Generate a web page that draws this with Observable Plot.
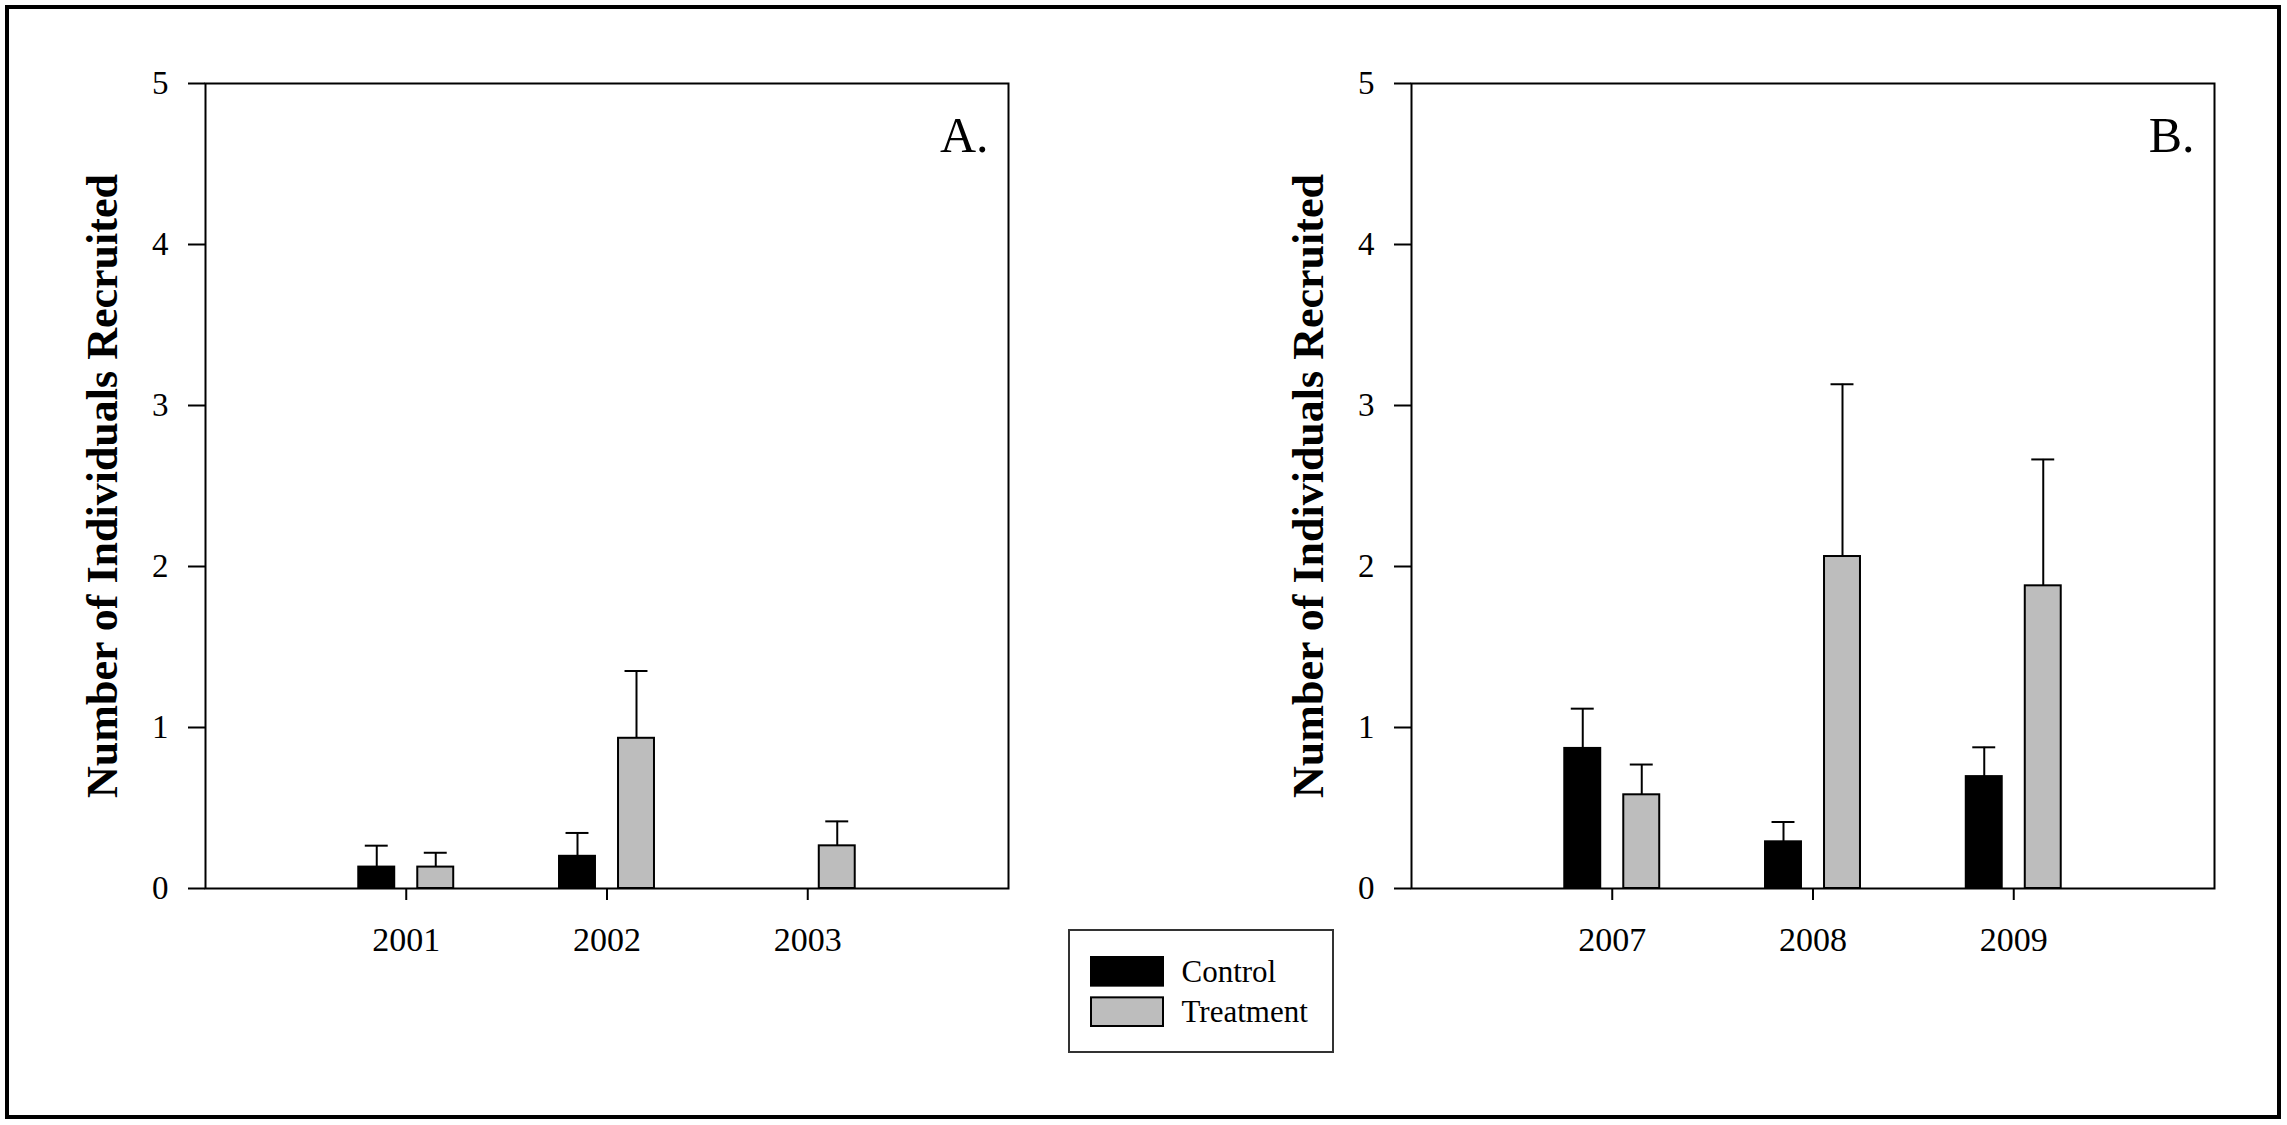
<!DOCTYPE html>
<html><head><meta charset="utf-8">
<script src="https://cdn.jsdelivr.net/npm/d3@7"></script>
<script src="https://cdn.jsdelivr.net/npm/@observablehq/plot@0.6"></script>
<style>
html,body{margin:0;padding:0;background:#fff;}
#page{position:relative;width:2287px;height:1125px;background:#fff;overflow:hidden;font-family:"Liberation Serif",serif;}
#border{position:absolute;left:5px;top:5px;width:2276px;height:1114px;border:4px solid #000;box-sizing:border-box;}
#panelA{position:absolute;left:0;top:0;}
#panelB{position:absolute;left:1206px;top:0;}
#legend{position:absolute;left:1068px;top:929px;width:266px;height:124px;border:2px solid #333;box-sizing:border-box;background:#fff;}
#legend svg, #panelA svg, #panelB svg{display:block;}
</style></head><body>
<div id="page"><div id="border"></div><div id="panelA"></div><div id="panelB"></div><div id="legend"></div></div>
<script>
const series = ["Control", "Treatment"];
const colors = ["#000000", "#bdbdbd"];
const yTicks = [0, 1, 2, 3, 4, 5];
const yLabel = "Number of Individuals Recruited";

const yearsA = ["2001", "2002", "2003"];
const controlA = [0.133, 0.2, 0];
const controlSeA = [0.133, 0.145, 0];
const treatmentA = [0.133, 0.933, 0.265];
const treatmentSeA = [0.089, 0.418, 0.152];

const yearsB = ["2007", "2008", "2009"];
const controlB = [0.87, 0.29, 0.695];
const controlSeB = [0.247, 0.123, 0.182];
const treatmentB = [0.582, 2.062, 1.88];
const treatmentSeB = [0.188, 1.07, 0.785];

// dodge layout inside each year band (band ≈ 95px): bar 36px, gap 23px, cap 23px
const DODGE = 59, HALF = 29.5, CAP = 6.5;

function panel(years, control, controlSe, treatment, treatmentSe, tag) {
  const ctl = years.map((year, i) => ({year, series: series[0], value: control[i], se: controlSe[i]}));
  const trt = years.map((year, i) => ({year, series: series[1], value: treatment[i], se: treatmentSe[i]}));
  const ctlErr = ctl.filter(d => d.se > 0);
  const trtErr = trt.filter(d => d.se > 0);
  const top = d => d.value + d.se;
  return Plot.plot({
    width: 1040, height: 1000,
    marginLeft: 205, marginRight: 32, marginTop: 83, marginBottom: 112,
    style: {fontFamily: "'Liberation Serif', serif", fontSize: "32px", color: "#000", background: "transparent", overflow: "visible"},
    x: {domain: years, paddingInner: 0.527, paddingOuter: 0.7635, round: false, label: null},
    y: {domain: [0, 5], label: null},
    color: {domain: series, range: colors},
    marks: [
      Plot.barY(ctl, {x: "year", y: "value", fill: "series", stroke: "#000", strokeWidth: 2, insetRight: DODGE}),
      Plot.barY(trt, {x: "year", y: "value", fill: "series", stroke: "#000", strokeWidth: 2, insetLeft: DODGE}),
      Plot.ruleX(ctlErr, {x: "year", y1: "value", y2: top, dx: -HALF, stroke: "#000", strokeWidth: 2}),
      Plot.ruleX(trtErr, {x: "year", y1: "value", y2: top, dx: HALF, stroke: "#000", strokeWidth: 2}),
      Plot.tickY(ctlErr, {x: "year", y: top, insetLeft: CAP, insetRight: DODGE + CAP, stroke: "#000", strokeWidth: 2}),
      Plot.tickY(trtErr, {x: "year", y: top, insetLeft: DODGE + CAP, insetRight: CAP, stroke: "#000", strokeWidth: 2}),
      Plot.axisY({ticks: yTicks, tickSize: 17, tickPadding: 20, tickFormat: d3.format("d"), fontSize: 33, label: null, strokeWidth: 2}),
      Plot.axisX({anchor: "bottom", tickSize: 12, tickPadding: 26, fontSize: 34, label: null, strokeWidth: 2}),
      Plot.frame({stroke: "#000", strokeWidth: 2}),
      Plot.text([yLabel], {frameAnchor: "left", rotate: -90, dx: -120, textAnchor: "middle", lineAnchor: "top", fontSize: 44, fontWeight: "bold"}),
      Plot.text([tag], {frameAnchor: "top-right", textAnchor: "end", dx: -20, dy: 68, lineAnchor: "bottom", fontSize: 50})
    ]
  });
}

document.getElementById("panelA").append(panel(yearsA, controlA, controlSeA, treatmentA, treatmentSeA, "A."));
document.getElementById("panelB").append(panel(yearsB, controlB, controlSeB, treatmentB, treatmentSeB, "B."));

const legend = Plot.plot({
  width: 262, height: 120,
  marginLeft: 21, marginRight: 169, marginTop: 26, marginBottom: 25,
  style: {fontFamily: "'Liberation Serif', serif", fontSize: "31px", color: "#000", background: "transparent", overflow: "visible"},
  y: {domain: series, paddingInner: 0.29, paddingOuter: 0, round: false, axis: null},
  color: {domain: series, range: colors},
  marks: [
    Plot.cell(series, {y: d => d, fill: d => d, stroke: "#000", strokeWidth: 2}),
    Plot.text(series, {y: d => d, frameAnchor: "left", dx: 90, textAnchor: "start", fontSize: 31})
  ]
});
document.getElementById("legend").append(legend);
</script>
</body></html>
